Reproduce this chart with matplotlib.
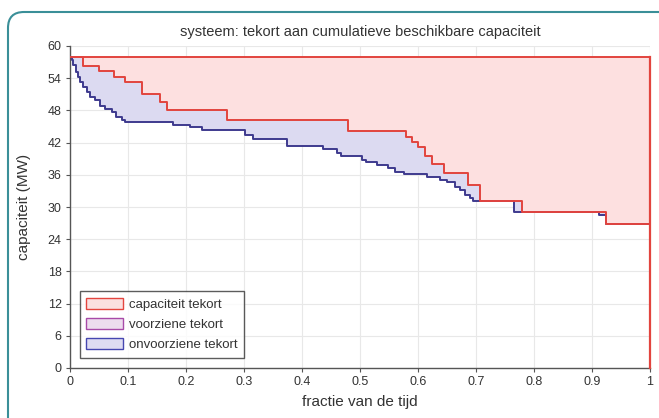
import matplotlib
matplotlib.use("Agg")
import matplotlib.pyplot as plt
from matplotlib.patches import FancyBboxPatch, Patch
import numpy as np

plt.rcParams['font.family'] = ['Liberation Sans', 'DejaVu Sans']

# ---- data ----
installed = 58.0

red_x = [0.000, 0.023, 0.050, 0.075, 0.095, 0.124, 0.155, 0.167, 0.271, 0.480,
         0.580, 0.589, 0.600, 0.612, 0.624, 0.644, 0.687, 0.707, 0.779, 0.924]
red_y = [58.0, 56.2, 55.3, 54.3, 53.3, 51.1, 49.6, 48.0, 46.2, 44.2,
         43.1, 42.1, 41.2, 39.5, 38.1, 36.3, 34.1, 31.2, 29.1, 26.9]

blue_x = [0.000, 0.003, 0.006, 0.010, 0.014, 0.018, 0.023, 0.029, 0.034, 0.043,
          0.052, 0.060, 0.072, 0.080, 0.089, 0.095, 0.178, 0.207, 0.227, 0.302,
          0.315, 0.374, 0.437, 0.460, 0.468, 0.503, 0.511, 0.529, 0.549, 0.560,
          0.575, 0.615, 0.638, 0.650, 0.664, 0.672, 0.681, 0.690, 0.695, 0.766,
          0.912, 0.924]
blue_y = [58.0, 57.3, 56.4, 55.2, 54.3, 53.3, 52.4, 51.5, 50.5, 49.9,
          48.9, 48.3, 47.7, 46.8, 46.2, 45.9, 45.3, 45.0, 44.3, 43.4,
          42.6, 41.4, 40.8, 40.0, 39.5, 38.8, 38.4, 37.8, 37.2, 36.6,
          36.2, 35.5, 35.0, 34.6, 33.8, 33.1, 32.2, 31.6, 31.2, 29.0,
          28.6, 26.9]

legend_labels = ["capaciteit tekort", "voorziene tekort", "onvoorziene tekort"]
x_ticks = [0, 0.1, 0.2, 0.3, 0.4, 0.5, 0.6, 0.7, 0.8, 0.9, 1]
x_ticklabels = ["0", "0.1", "0.2", "0.3", "0.4", "0.5", "0.6", "0.7", "0.8", "0.9", "1"]
y_ticks = [0, 6, 12, 18, 24, 30, 36, 42, 48, 54, 60]

# ---- figure ----
fig = plt.figure(figsize=(6.59, 4.18), dpi=100)
ax = fig.add_axes([70/659, 1-368/418, 580/659, 322/418])

rx = np.array(red_x + [1.0])
ry = np.array(red_y + [red_y[-1]])
bx = np.array(blue_x + [1.0])
by = np.array(blue_y + [blue_y[-1]])

grid = np.unique(np.concatenate([rx, bx]))
r_on = np.array([ry[np.searchsorted(rx, g, side='right') - 1] for g in grid])
b_on = np.array([by[np.searchsorted(bx, g, side='right') - 1] for g in grid])

pink_fill = '#fde0e0'
lav_fill = '#dcdaf1'
red_col = '#e2443e'
blue_col = '#3e3a8e'

ax.fill_between(grid, r_on, installed, step='post', color=pink_fill, lw=0, zorder=1)
ax.fill_between(grid, b_on, r_on, step='post', color=lav_fill, lw=0, zorder=1)

ax.plot([0, 1], [installed, installed], color=red_col, lw=1.4, zorder=3)
ax.plot([1, 1], [0, installed], color=red_col, lw=1.6, zorder=3, clip_on=False)
ax.step(bx, by, where='post', color=blue_col, lw=1.4, zorder=3)
ax.step(rx, ry, where='post', color=red_col, lw=1.4, zorder=4)

ax.set_xlim(0, 1)
ax.set_ylim(0, 60)
ax.set_xticks(x_ticks)
ax.set_xticklabels(x_ticklabels)
ax.set_yticks(y_ticks)
ax.grid(True, color='#e8e8e8', lw=0.8, zorder=0)
ax.set_axisbelow(True)
for s in ['top', 'right']:
    ax.spines[s].set_visible(False)
for s in ['left', 'bottom']:
    ax.spines[s].set_color('#555555')
    ax.spines[s].set_linewidth(1.0)
ax.tick_params(direction='out', length=3, width=0.8, colors='#555555',
               labelsize=9, labelcolor='#333333', pad=3)

ax.set_title("systeem: tekort aan cumulatieve beschikbare capaciteit",
             fontsize=10.5, color='#333333', pad=7)
ax.set_xlabel("fractie van de tijd", fontsize=11, color='#333333', labelpad=5)
ax.set_ylabel("capaciteit (MW)", fontsize=11, color='#333333', labelpad=12)

handles = [
    Patch(facecolor='#fbe0e0', edgecolor='#e4453f', lw=1.0),
    Patch(facecolor='#eddcee', edgecolor='#a84aa8', lw=1.0),
    Patch(facecolor='#dedcf2', edgecolor='#4646b0', lw=1.0),
]
leg = ax.legend(handles, legend_labels, loc='lower left',
                bbox_to_anchor=(0.017, 0.031), borderaxespad=0,
                fontsize=9.5, frameon=True, fancybox=False,
                handlelength=2.8, handleheight=0.9, handletextpad=0.4,
                labelspacing=0.55, borderpad=0.5)
leg.get_frame().set_edgecolor('#333333')
leg.get_frame().set_linewidth(1.0)
leg.set_zorder(10)
for t in leg.get_texts():
    t.set_color('#333333')

frame = FancyBboxPatch((8, -60), 720, 406 + 60, boxstyle="round,pad=0,rounding_size=16",
                       transform=None, facecolor='none', edgecolor='#3a8f98', lw=1.5)
fig.patches.append(frame)

fig.savefig("out.png", dpi=100)
